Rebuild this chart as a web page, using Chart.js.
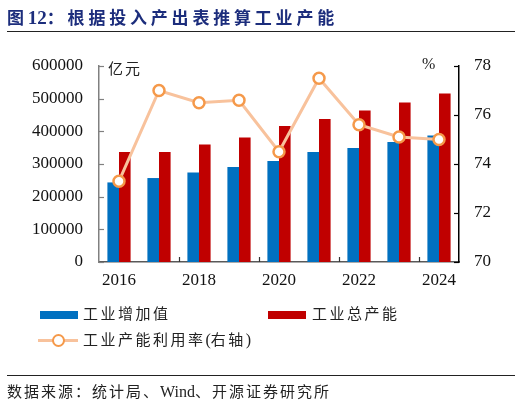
<!DOCTYPE html>
<html>
<head>
<meta charset="utf-8">
<script src="https://cdn.jsdelivr.net/npm/chart.js@4"></script>
<style>
  body { margin:0; width:522px; height:405px; background:#fff; position:relative; overflow:hidden; font-family:"Noto Sans CJK SC", sans-serif; }
  .abs { position:absolute; white-space:nowrap; }
  .lat { font-family:"Liberation Serif", serif; }
  #title { left:7px; top:4px; font-size:17px; font-weight:bold; color:#1c2d7c; letter-spacing:3.8px; }
  .rule { position:absolute; left:7px; width:508px; height:1px; background:#222; }
  .leg { font-size:15px; color:#222; letter-spacing:2.5px; }
  .sw { position:absolute; width:38px; height:8px; }
  #wrap { position:absolute; left:0; top:0; width:522px; height:405px; }
</style>
</head>
<body>
<div id="wrap"><canvas id="chart"></canvas></div>
<div id="title" class="abs">图<span class="lat" style="font-size:19px;letter-spacing:0;">12</span>：根据投入产出表推算工业产能</div>
<div class="rule" style="top:31px;"></div>
<div class="abs" style="left:108px;top:57px;font-size:15px;letter-spacing:2px;color:#222;">亿元</div>
<div class="abs lat" style="left:422px;top:55px;font-size:16px;color:#222;">%</div>

<div class="sw" style="left:40px;top:311px;background:#0070C0;"></div>
<div class="abs leg" style="left:83px;top:302px;">工业增加值</div>
<div class="sw" style="left:268px;top:311px;background:#C00000;"></div>
<div class="abs leg" style="left:312px;top:302px;">工业总产能</div>
<div class="abs" style="left:38px;top:339px;width:40px;height:3px;background:#F8C29C;"></div>
<div class="abs" style="left:52px;top:334px;width:9px;height:9px;border:2.5px solid #F5994A;border-radius:50%;background:#fff;"></div>
<div class="abs leg" style="left:83px;top:328px;">工业产能利用率<span class="lat" style="font-size:16px;letter-spacing:0;">(</span>右轴<span class="lat" style="font-size:16px;">)</span></div>

<div class="rule" style="top:375px;"></div>
<div class="abs" style="left:7px;top:380px;font-size:15px;letter-spacing:2px;color:#222;">数据来源：统计局、<span class="lat" style="font-size:16px;letter-spacing:0;">Wind</span>、开源证券研究所</div>

<script>
// 年份与数据（亿元 / %）
const years = ['2016', '2017', '2018', '2019', '2020', '2021', '2022', '2023', '2024'];
const addedValue = [243600, 257000, 274000, 290500, 309000, 337000, 349000, 367000, 387000];
const totalCapacity = [337000, 337000, 359600, 381000, 416000, 437700, 464000, 488000, 515600];
const utilization = [73.3, 77.0, 76.5, 76.6, 74.5, 77.5, 75.6, 75.1, 75.0];

const leftTicks = [0, 100000, 200000, 300000, 400000, 500000, 600000];
const rightTicks = [70, 72, 74, 76, 78];

const serif = { family: 'Liberation Serif', size: 17 };

// inward tick marks like the original
const innerTicks = {
  id: 'innerTicks',
  afterDatasetsDraw(chart) {
    const { ctx, chartArea, scales } = chart;
    ctx.save();
    ctx.lineWidth = 1.2;
    ctx.strokeStyle = '#808080';
    leftTicks.forEach(v => {
      const y = Math.round(scales.y.getPixelForValue(v)) + 0.5;
      ctx.beginPath(); ctx.moveTo(chartArea.left, y); ctx.lineTo(chartArea.left + 5, y); ctx.stroke();
    });
    ctx.strokeStyle = '#000';
    rightTicks.forEach(v => {
      const y = Math.round(scales.y1.getPixelForValue(v)) + 0.5;
      ctx.beginPath(); ctx.moveTo(chartArea.right - 5, y); ctx.lineTo(chartArea.right, y); ctx.stroke();
    });
    ctx.strokeStyle = '#333';
    for (let i = 2; i < years.length; i += 2) {
      const x = Math.round((scales.x.getPixelForValue(i - 1) + scales.x.getPixelForValue(i)) / 2) + 0.5;
      ctx.beginPath(); ctx.moveTo(x, chartArea.bottom); ctx.lineTo(x, chartArea.bottom - 5); ctx.stroke();
    }
    ctx.restore();
  }
};

new Chart(document.getElementById('chart'), {
  data: {
    labels: years,
    datasets: [
      {
        type: 'line', label: '工业产能利用率(右轴)', data: utilization, yAxisID: 'y1', order: 0,
        borderColor: '#F8C29C', borderWidth: 3, tension: 0,
        pointRadius: 5.5, pointBorderWidth: 2.5, pointBorderColor: '#F5994A', pointBackgroundColor: '#fff'
      },
      {
        type: 'bar', label: '工业增加值', data: addedValue, yAxisID: 'y', order: 1,
        backgroundColor: '#0070C0', barPercentage: 1, categoryPercentage: 0.58
      },
      {
        type: 'bar', label: '工业总产能', data: totalCapacity, yAxisID: 'y', order: 1,
        backgroundColor: '#C00000', barPercentage: 1, categoryPercentage: 0.58
      }
    ]
  },
  options: {
    responsive: true, maintainAspectRatio: false, animation: false,
    layout: { padding: { top: 66, bottom: 113, left: 0, right: 0 } },
    plugins: { legend: { display: false }, tooltip: { enabled: false } },
    scales: {
      x: {
        grid: { display: false, drawTicks: false },
        border: { display: true, color: '#595959', width: 1.5 },
        ticks: { autoSkip: false, maxRotation: 0, padding: 8, color: '#111', font: serif,
                 callback: (v, i) => (i % 2 === 0 ? years[i] : '') },
        afterFit: s => { s.height = 30; }
      },
      y: {
        position: 'left', min: 0, max: 600000,
        grid: { display: false, drawTicks: false },
        border: { display: true, color: '#808080', width: 1.5 },
        ticks: { stepSize: 100000, padding: 16, color: '#111', font: serif, callback: v => String(v) },
        afterFit: s => { s.width = 99; }
      },
      y1: {
        position: 'right', min: 70, max: 78,
        grid: { display: false, drawTicks: false },
        border: { display: true, color: '#000', width: 1.5 },
        ticks: { stepSize: 2, padding: 15, color: '#111', font: serif },
        afterFit: s => { s.width = 63; }
      }
    }
  },
  plugins: [innerTicks]
});
</script>
</body>
</html>
